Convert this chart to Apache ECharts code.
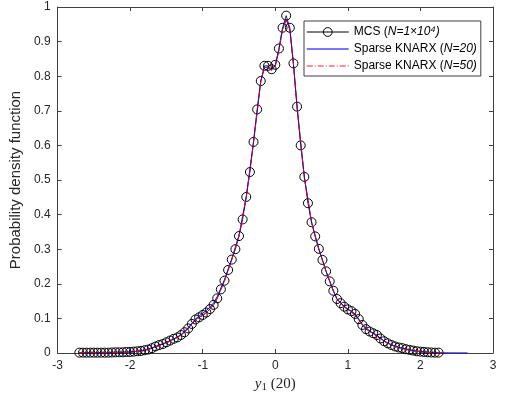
<!DOCTYPE html>
<html>
<head>
<meta charset="utf-8">
<script src="https://cdn.jsdelivr.net/npm/echarts@6/dist/echarts.min.js"></script>
<style>html,body{margin:0;padding:0;background:#fff}#chart{width:509px;height:405px}</style>
</head>
<body>
<div id="chart"></div>
<script>
// Tick values
const xTicks = [-3, -2, -1, 0, 1, 2, 3];
const yTicks = [0, 0.1, 0.2, 0.3, 0.4, 0.5, 0.6, 0.7, 0.8, 0.9, 1];

// MCS (N = 1e4) estimated PDF
const mcsX = [-2.7,-2.65,-2.6,-2.55,-2.5,-2.45,-2.4,-2.35,-2.3,-2.25,-2.2,-2.15,-2.1,-2.05,-2.0,-1.95,-1.9,-1.85,-1.8,-1.75,-1.7,-1.65,-1.6,-1.55,-1.5,-1.45,-1.4,-1.35,-1.3,-1.25,-1.2,-1.15,-1.1,-1.05,-1.0,-0.95,-0.9,-0.85,-0.8,-0.75,-0.7,-0.65,-0.6,-0.55,-0.5,-0.45,-0.4,-0.35,-0.3,-0.25,-0.2,-0.15,-0.1,-0.05,0,0.05,0.1,0.15,0.2,0.25,0.3,0.35,0.4,0.45,0.5,0.55,0.6,0.65,0.7,0.75,0.8,0.85,0.9,0.95,1.0,1.05,1.1,1.15,1.2,1.25,1.3,1.35,1.4,1.45,1.5,1.55,1.6,1.65,1.7,1.75,1.8,1.85,1.9,1.95,2.0,2.05,2.1,2.15,2.2,2.25];
const mcsY = [0.001,0.001,0.001,0.001,0.001,0.001,0.001,0.001,0.001,0.0015,0.002,0.002,0.002,0.003,0.003,0.004,0.005,0.006,0.008,0.010,0.014,0.019,0.023,0.026,0.031,0.036,0.041,0.045,0.052,0.060,0.071,0.084,0.097,0.103,0.110,0.117,0.127,0.139,0.158,0.184,0.209,0.240,0.270,0.300,0.338,0.386,0.451,0.523,0.610,0.704,0.786,0.830,0.830,0.820,0.833,0.880,0.940,0.975,0.940,0.837,0.712,0.600,0.509,0.433,0.378,0.337,0.301,0.269,0.236,0.207,0.180,0.156,0.144,0.134,0.126,0.121,0.113,0.098,0.081,0.069,0.062,0.057,0.052,0.042,0.034,0.028,0.023,0.019,0.016,0.014,0.011,0.009,0.007,0.005,0.004,0.003,0.002,0.0015,0.001,0.001];

// Sparse KNARX (N = 20)
const k20X = [-2.7,-2.6,-2.5,-2.4,-2.3,-2.2,-2.1,-2.0,-1.9,-1.8,-1.7,-1.6,-1.5,-1.4,-1.3,-1.2,-1.15,-1.1,-1.05,-1.0,-0.95,-0.9,-0.85,-0.8,-0.7,-0.6,-0.5,-0.4,-0.3,-0.2,-0.15,-0.1,-0.05,0,0.05,0.1,0.15,0.2,0.25,0.3,0.4,0.5,0.6,0.7,0.8,0.85,0.9,0.95,1.0,1.05,1.1,1.15,1.2,1.3,1.4,1.5,1.6,1.7,1.8,1.9,2.0,2.1,2.2,2.3,2.4,2.5,2.65];
const k20Y = [0.001,0.001,0.001,0.001,0.001,0.002,0.002,0.003,0.005,0.009,0.015,0.022,0.030,0.040,0.053,0.073,0.086,0.098,0.107,0.115,0.123,0.132,0.145,0.163,0.212,0.272,0.340,0.452,0.610,0.785,0.826,0.826,0.818,0.830,0.876,0.936,0.965,0.936,0.836,0.712,0.509,0.378,0.300,0.236,0.180,0.157,0.145,0.135,0.127,0.120,0.110,0.097,0.083,0.064,0.050,0.035,0.024,0.016,0.011,0.007,0.004,0.002,0.001,0.0005,0.0003,0.0002,0.0001];

// Sparse KNARX (N = 50)
const k50X = [-2.7,-2.6,-2.5,-2.4,-2.3,-2.2,-2.1,-2.0,-1.9,-1.8,-1.7,-1.6,-1.5,-1.4,-1.3,-1.2,-1.15,-1.1,-1.05,-1.0,-0.95,-0.9,-0.85,-0.8,-0.7,-0.6,-0.5,-0.4,-0.3,-0.2,-0.15,-0.1,-0.05,0,0.05,0.1,0.15,0.2,0.25,0.3,0.4,0.5,0.6,0.7,0.8,0.85,0.9,0.95,1.0,1.05,1.1,1.15,1.2,1.3,1.4,1.5,1.6,1.7,1.8,1.9,2.0,2.1,2.2,2.3];
const k50Y = [0.001,0.001,0.001,0.001,0.001,0.002,0.002,0.003,0.005,0.008,0.014,0.021,0.029,0.039,0.051,0.070,0.083,0.094,0.102,0.108,0.116,0.126,0.140,0.158,0.208,0.270,0.338,0.450,0.608,0.784,0.824,0.824,0.816,0.828,0.874,0.934,0.962,0.934,0.834,0.710,0.508,0.377,0.299,0.235,0.178,0.155,0.143,0.133,0.125,0.118,0.108,0.095,0.081,0.062,0.048,0.034,0.023,0.015,0.010,0.006,0.004,0.002,0.001,0.0005];

const pairs = (xs, ys) => xs.map((x, i) => [x, ys[i]]);

const axisColor = '#404040';
const textColor = '#262626';
const font = 'Liberation Sans, Arial, sans-serif';
const clear = 'rgba(0,0,0,0)';

const chart = echarts.init(document.getElementById('chart'), null, {renderer: 'canvas'});
chart.setOption({
  animation: false,
  backgroundColor: '#fff',
  grid: {left: 56, right: 16, top: 7, bottom: 52, containLabel: false},
  xAxis: [{
    type: 'value', min: xTicks[0], max: xTicks[xTicks.length - 1], interval: 1,
    position: 'bottom',
    axisLine: {onZero: false, lineStyle: {color: axisColor, width: 1}},
    axisTick: {inside: true, length: 4, lineStyle: {color: axisColor}},
    axisLabel: {color: textColor, fontFamily: font, fontSize: 12, margin: 7},
    splitLine: {show: false},
    name: '{iy|y}{sub|1}{n| (20)}',
    nameLocation: 'middle', nameGap: 21,
    nameTextStyle: {
      rich: {
        iy: {fontFamily: 'Liberation Serif, serif', fontStyle: 'italic', fontSize: 15, color: textColor},
        sub: {fontFamily: 'Liberation Serif, serif', fontSize: 11, color: textColor, padding: [6, 0, 0, 0]},
        n: {fontFamily: 'Liberation Serif, serif', fontSize: 15, color: textColor}
      }
    }
  }, {
    type: 'value', min: xTicks[0], max: xTicks[xTicks.length - 1], interval: 1,
    position: 'top',
    axisLine: {onZero: false, lineStyle: {color: axisColor, width: 1}},
    axisTick: {inside: true, length: 4, lineStyle: {color: axisColor}},
    axisLabel: {show: false}, splitLine: {show: false}
  }],
  yAxis: [{
    type: 'value', min: yTicks[0], max: yTicks[yTicks.length - 1], interval: 0.1,
    position: 'left',
    axisLine: {show: true, onZero: false, lineStyle: {color: axisColor, width: 1}},
    axisTick: {show: true, inside: true, length: 4, lineStyle: {color: axisColor}},
    axisLabel: {color: textColor, fontFamily: font, fontSize: 12, margin: 7},
    splitLine: {show: false},
    name: 'Probability density function',
    nameLocation: 'middle', nameGap: 30, nameRotate: 90,
    nameTextStyle: {color: textColor, fontFamily: font, fontSize: 15}
  }, {
    type: 'value', min: yTicks[0], max: yTicks[yTicks.length - 1], interval: 0.1,
    position: 'right',
    axisLine: {show: true, onZero: false, lineStyle: {color: axisColor, width: 1}},
    axisTick: {show: true, inside: true, length: 4, lineStyle: {color: axisColor}},
    axisLabel: {show: false}, splitLine: {show: false}
  }],
  legend: {
    left: 304, top: 21, orient: 'vertical',
    itemWidth: 42, itemHeight: 11, itemGap: 5,
    padding: [5, 4, 4, 2],
    borderColor: axisColor, borderWidth: 1, backgroundColor: '#fff',
    textStyle: {
      fontFamily: font, fontSize: 12, color: '#000',
      rich: {
        t: {fontFamily: font, fontSize: 12, color: '#000'},
        i: {fontFamily: font, fontSize: 12, fontStyle: 'italic', color: '#000'}
      }
    },
    formatter: function (name) {
      if (name === 'MCS') return '{t|MCS (}{i|N=1×10⁴)}';
      if (name === 'K20') return '{t|Sparse KNARX (}{i|N=20)}';
      return '{t|Sparse KNARX (}{i|N=50)}';
    },
    data: [
      {name: 'MCS', itemStyle: {color: clear, borderColor: '#000', borderWidth: 1}, lineStyle: {width: 1, color: '#000'}},
      {name: 'K20', itemStyle: {color: clear, borderColor: clear, borderWidth: 0}, lineStyle: {width: 1.5, color: '#4a4aff'}},
      {name: 'K50', itemStyle: {color: clear, borderColor: clear, borderWidth: 0}, lineStyle: {width: 1.5, color: '#ff6a6a', type: [6, 2, 1, 2]}}
    ]
  },
  series: [{
    name: 'MCS', type: 'line', z: 1,
    data: pairs(mcsX, mcsY),
    symbol: 'circle', symbolSize: 9, showSymbol: true,
    lineStyle: {color: '#000', width: 0.8},
    itemStyle: {color: clear, borderColor: '#000', borderWidth: 1}
  }, {
    name: 'K20', type: 'line', z: 2,
    data: pairs(k20X, k20Y),
    symbol: 'none', showSymbol: false,
    lineStyle: {color: '#0000ff', width: 1},
    itemStyle: {color: '#0000ff'}
  }, {
    name: 'K50', type: 'line', z: 3,
    data: pairs(k50X, k50Y),
    symbol: 'none', showSymbol: false,
    lineStyle: {color: '#ff0000', width: 1, type: [6, 2, 1, 2]},
    itemStyle: {color: '#ff0000'}
  }]
});
</script>
</body>
</html>
